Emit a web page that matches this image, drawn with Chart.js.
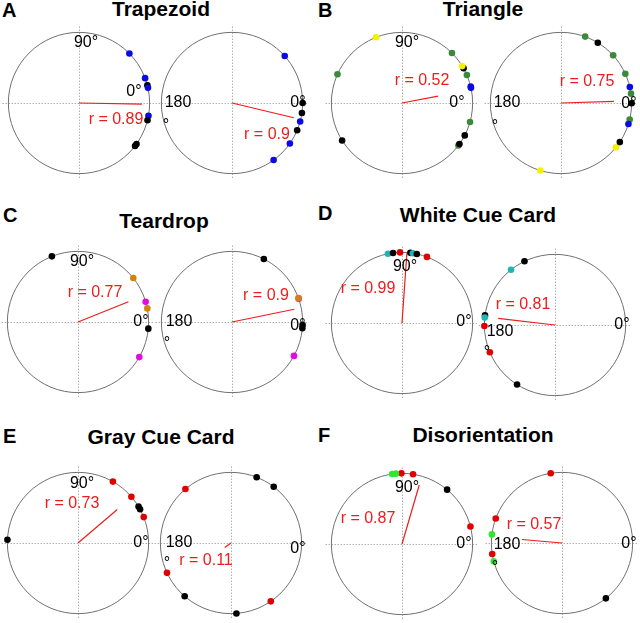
<!DOCTYPE html>
<html><head><meta charset="utf-8">
<script src="https://cdn.jsdelivr.net/npm/chart.js@4"></script>
<style>
html,body{margin:0;padding:0;background:#fff;}
#fig{position:relative;width:640px;height:623px;overflow:hidden;background:#fff;font-family:"Liberation Sans",Arial,sans-serif;}
#fig canvas{position:absolute;}
.lt{position:absolute;font-weight:bold;font-size:20px;line-height:20px;color:#000;}
.tt{position:absolute;font-weight:bold;font-size:21px;line-height:21px;color:#000;white-space:nowrap;transform:translateX(-50%);}
</style></head><body><div id="fig"></div><script>
// ---------- data ----------
const panelLetters = ['A','B','C','D','E','F'];
const panelTitles = ['Trapezoid','Triangle','Teardrop','White Cue Card','Gray Cue Card','Disorientation'];

// preferred firing directions (degrees, 0° = right, counter-clockwise), one dot per cell
const trapLeftAngles  = [44.5, 20.6, 14.6, 12.4, -10.4, -14.1, -35.5, -37.5];
const trapLeftColors  = ['b','b','k','b','b','k','k','k'];
const trapRightAngles = [41.7, 0, -8.2, -15.2, -22.7, -35, -53.9];
const trapRightColors = ['b','k','k','b','k','b','b'];
const triLeftAngles   = [111.5, 156, 45, 29.4, 31.5, 23.3, 13.4, 12.4, -15.6, -27.3, -37, -35.6, 212];
const triLeftColors   = ['y','g','g','k','y','g','b','b','g','k','g','k','k'];
const triRightAngles  = [70, 58.6, 42.4, 24.4, 13, 7.6, -0.2, -13.5, -17.3, -38.9, -33.6, 253];
const triRightColors  = ['g','k','g','g','b','g','k','g','b','y','k','y'];
const tearLeftAngles  = [111.7, 38.5, 16.7, 11.1, -5.4, -29.8];
const tearLeftColors  = ['k','o','m','o','k','m'];
const tearRightAngles = [63.2, 19.3, 19.8, -2.5, -5, -28.7];
const tearRightColors = ['k','m','o','k','k','m'];
const whiteLeftAngles = [101.5, 97.3, 91.6, 83.2, 81.1, 77.9, 69.3];
const whiteLeftColors = ['c','k','r','k','c','k','r'];
const whiteRightAngles= [115.6, 128.5, 172.2, 174, 180.8, 202.7, 237.5];
const whiteRightColors= ['k','c','k','c','r','r','k'];
const grayLeftAngles  = [177.4, 60.4, 40.9, 31, 28.5, 21.5];
const grayLeftColors  = ['k','r','r','k','k','r'];
const grayRightAngles = [68.7, 52.8, 130.2, 205, 229, 274.4, 304.3];
const grayRightColors = ['k','k','r','r','k','k','r'];
const disoLeftAngles  = [90.5, 81, 98, 95, 50.3, 14.3];
const disoLeftColors  = ['r','r','l','l','k','r'];
const disoRightAngles = [99.2, 159.7, 173, 189, 195, 308.4];
const disoRightColors = ['r','r','l','r','l','k'];

// mean vector per plot
const rValues    = [0.89, 0.9, 0.52, 0.75, 0.77, 0.9, 0.99, 0.81, 0.73, 0.11, 0.87, 0.57];
const meanAngles = [-1, -13.4, 10.8, 1.8, 21.9, 11.6, 86, 173.4, 40.4, 216, 73.7, 175];
const angleTickLabels = {'0':'0°','90':'90°','180':'180','deg':'°'};

// ---------- styling / layout ----------
const palette = {k:'#000000', b:'#0a0ae6', g:'#3b8a3b', y:'#f2f200', o:'#d3830c',
                 m:'#e40ae4', c:'#1fb5b5', r:'#e00000', l:'#2ee82e'};
const RED = '#ee1c1c';
const plots = [
  [trapLeftAngles, trapLeftColors], [trapRightAngles, trapRightColors],
  [triLeftAngles, triLeftColors], [triRightAngles, triRightColors],
  [tearLeftAngles, tearLeftColors], [tearRightAngles, tearRightColors],
  [whiteLeftAngles, whiteLeftColors], [whiteRightAngles, whiteRightColors],
  [grayLeftAngles, grayLeftColors], [grayRightAngles, grayRightColors],
  [disoLeftAngles, disoLeftColors], [disoRightAngles, disoRightColors]
];
const centers = [[79,103],[232,103],[402,103],[561,103],[78,322],[232,322],
                 [402,323],[555,325],[78,543],[231,543],[402,544],[562,543]];
const labelLayout = [
 [['90',7,-60],['0',55,-11],['r',37,17]],
 [['180',-54,0],['deg',-66,18],['0',66,0],['r',35,32]],
 [['90',5,-60],['r',20,-22],['0',55,0]],
 [['r',26,-21],['180',-54,0],['deg',-66,19],['0',68,1]],
 [['90',4,-60],['r',17,-29],['0',63,0]],
 [['r',34,-26],['180',-53,0],['deg',-65,17],['0',66,4]],
 [['90',3,-56],['r',-34,-34],['0',62,-1]],
 [['r',-32,-20],['180',-55,7],['deg',-68,23],['0',67,0]],
 [['90',4,-59],['r',-6,-39],['0',63,0]],
 [['180',-52,0],['deg',-64,16],['r',-25,18],['0',67,6]],
 [['90',5,-56],['r',-34,-25],['0',62,0]],
 [['r',-28,-18],['180',-55,2],['deg',-67,20],['0',67,1]]
];
const titleLayout  = [[161,-2.3],[483,-1.8],[164,210.2],[478,204.2],[161,426.2],[483,424.2]];
const letterLayout = [[2,-0.2],[318,-0.2],[3,204.8],[318,203],[3,426.4],[318,424.8]];
const R_PX = 74, HALF = 88, LIM = HALF / R_PX;

const fig = document.getElementById('fig');
panelLetters.forEach((t,i)=>{
  const d = document.createElement('div'); d.className='lt'; d.textContent=t;
  d.style.left = letterLayout[i][0]+'px'; d.style.top = letterLayout[i][1]+'px'; fig.appendChild(d);
  const h = document.createElement('div'); h.className='tt'; h.textContent=panelTitles[i];
  h.style.left = titleLayout[i][0]+'px'; h.style.top = titleLayout[i][1]+'px'; fig.appendChild(h);
});

const decorPlugin = {
  id: 'decor',
  beforeDatasetsDraw(chart) {
    const {ctx, scales:{x, y}} = chart;
    const cx = x.getPixelForValue(0), cy = y.getPixelForValue(0);
    const rr = x.getPixelForValue(1) - cx;
    const ext = 1.08;
    ctx.save();
    ctx.strokeStyle = '#8a8a8a'; ctx.lineWidth = 1; ctx.setLineDash([1,2]);
    ctx.beginPath();
    ctx.moveTo(x.getPixelForValue(-ext), Math.round(cy)+0.5); ctx.lineTo(x.getPixelForValue(ext), Math.round(cy)+0.5);
    ctx.moveTo(Math.round(cx)+0.5, y.getPixelForValue(ext)); ctx.lineTo(Math.round(cx)+0.5, y.getPixelForValue(-ext));
    ctx.stroke();
    ctx.setLineDash([]);
    ctx.strokeStyle = '#707070';
    ctx.beginPath(); ctx.arc(cx, cy, rr, 0, 2*Math.PI); ctx.stroke();
    ctx.restore();
  },
  afterDatasetsDraw(chart, args, opts) {
    const {ctx, scales:{x, y}} = chart;
    const cx = x.getPixelForValue(0), cy = y.getPixelForValue(0);
    ctx.save();
    ctx.font = '16px "Liberation Sans", Arial, sans-serif';
    ctx.textAlign = 'center';
    (opts.labels || []).forEach(([k, dx, dy]) => {
      if (k === 'r') {
        ctx.fillStyle = RED; ctx.textBaseline = 'middle';
        ctx.fillText('r = ' + opts.r, cx+dx, cy+dy);
      } else if (k === 'deg') {
        ctx.fillStyle = '#000'; ctx.textBaseline = 'alphabetic';
        ctx.fillText(angleTickLabels[k], cx+dx, cy+dy+9);
      } else {
        ctx.fillStyle = '#000'; ctx.textBaseline = 'middle';
        ctx.fillText(angleTickLabels[k], cx+dx, cy+dy);
      }
    });
    ctx.restore();
  }
};

const rad = d => d * Math.PI / 180;
plots.forEach(([angles, colors], i) => {
  const cv = document.createElement('canvas');
  cv.width = HALF*2; cv.height = HALF*2;
  cv.style.left = (centers[i][0]-HALF)+'px'; cv.style.top = (centers[i][1]-HALF)+'px';
  fig.appendChild(cv);
  const dots = angles.map(a => ({x: Math.cos(rad(a)), y: Math.sin(rad(a))}));
  const cols = colors.map(c => palette[c]);
  const vec = [{x:0, y:0}, {x: rValues[i]*Math.cos(rad(meanAngles[i])), y: rValues[i]*Math.sin(rad(meanAngles[i]))}];
  new Chart(cv, {
    type: 'scatter',
    data: {datasets: [
      {data: dots, backgroundColor: cols, borderColor: cols, pointRadius: 3.3, borderWidth: 0},
      {data: vec, showLine: true, borderColor: RED, borderWidth: 1.2, pointRadius: 0, fill: false}
    ]},
    options: {
      responsive: false, animation: false, devicePixelRatio: 1, events: [],
      layout: {padding: 0},
      scales: {
        x: {type: 'linear', min: -LIM, max: LIM, display: false},
        y: {type: 'linear', min: -LIM, max: LIM, display: false}
      },
      plugins: {legend: {display: false}, tooltip: {enabled: false},
                decor: {labels: labelLayout[i], r: rValues[i]}}
    },
    plugins: [decorPlugin]
  });
});
</script></body></html>
